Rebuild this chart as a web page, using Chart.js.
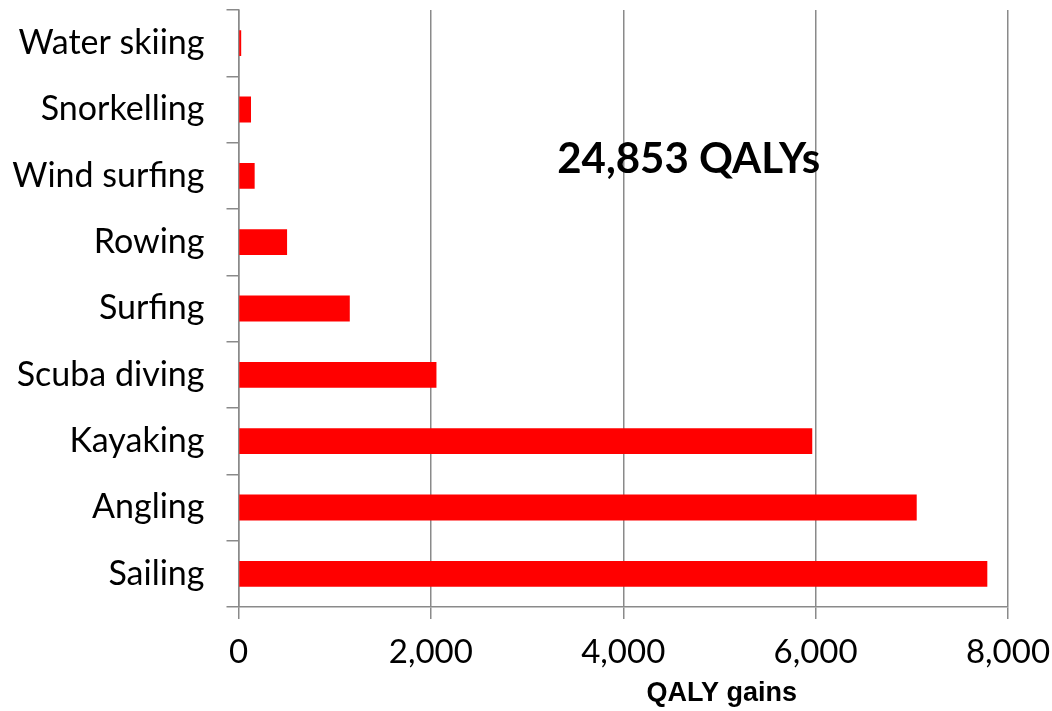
<!DOCTYPE html>
<html>
<head>
<meta charset="utf-8">
<script src="https://cdn.jsdelivr.net/npm/chart.js@4"></script>
<style>
html,body{margin:0;padding:0;background:#fff;}
#wrap{width:1052px;height:711px;}
</style>
</head>
<body>
<div id="wrap"><canvas id="c" width="1052" height="711"></canvas></div>
<script>
const categories = ["Water skiing","Snorkelling","Wind surfing","Rowing","Surfing","Scuba diving","Kayaking","Angling","Sailing"];
const qalyGains = [28, 130, 168, 505, 1157, 2058, 5965, 7051, 7785];
const xTicks = [0, 2000, 4000, 6000, 8000];
const totalLabel = "24,853 QALYs";
const axisTitle = "QALY gains";

const gridColor = "#8a8a8a";

const overlay = {
  id: "overlay",
  afterDraw(chart) {
    const ctx = chart.ctx;
    const a = chart.chartArea;
    ctx.save();
    ctx.fillStyle = "#000";
    ctx.textAlign = "center";
    ctx.textBaseline = "alphabetic";
    ctx.font = "bold 42px Lato";
    ctx.fillText(totalLabel, a.left + (a.right - a.left) * 0.585, 173);
    ctx.font = "bold 27px 'Liberation Sans', Arial, sans-serif";
    ctx.fillText(axisTitle, a.left + (a.right - a.left) * 0.628, 701);
    ctx.restore();
  }
};

new Chart(document.getElementById("c"), {
  type: "bar",
  data: {
    labels: categories,
    datasets: [{
      data: qalyGains,
      backgroundColor: "#ff0000",
      borderWidth: 0,
      categoryPercentage: 1,
      barPercentage: 0.39
    }]
  },
  options: {
    indexAxis: "y",
    responsive: false,
    animation: false,
    devicePixelRatio: 1,
    layout: { padding: { top: 10, right: 44, left: 0, bottom: 0 } },
    plugins: { legend: { display: false }, tooltip: { enabled: false } },
    scales: {
      x: {
        min: 0, max: 8000,
        afterBuildTicks(scale) { scale.ticks = xTicks.map(v => ({ value: v })); },
        afterFit(scale) {
          scale.height = 104;
          scale.paddingLeft = 0; scale.paddingRight = 0;
          scale.paddingTop = 0; scale.paddingBottom = 0;
        },
        ticks: {
          color: "#000",
          font: { family: "Lato", size: 33 },
          padding: 14,
          callback: v => v.toLocaleString("en-US")
        },
        grid: { color: gridColor, lineWidth: 1.5, tickLength: 12, drawTicks: true },
        border: { color: gridColor, width: 1.5 }
      },
      y: {
        afterFit(scale) {
          scale.width = 238.5;
          scale.paddingLeft = 0; scale.paddingRight = 0;
          scale.paddingTop = 0; scale.paddingBottom = 0;
        },
        ticks: {
          color: "#000",
          font: { family: "Lato", size: 34 },
          padding: 22
        },
        grid: { color: gridColor, lineWidth: 1.5, tickLength: 12, drawOnChartArea: false, offset: true },
        border: { color: gridColor, width: 1.5 }
      }
    }
  },
  plugins: [overlay]
});
</script>
</body>
</html>
